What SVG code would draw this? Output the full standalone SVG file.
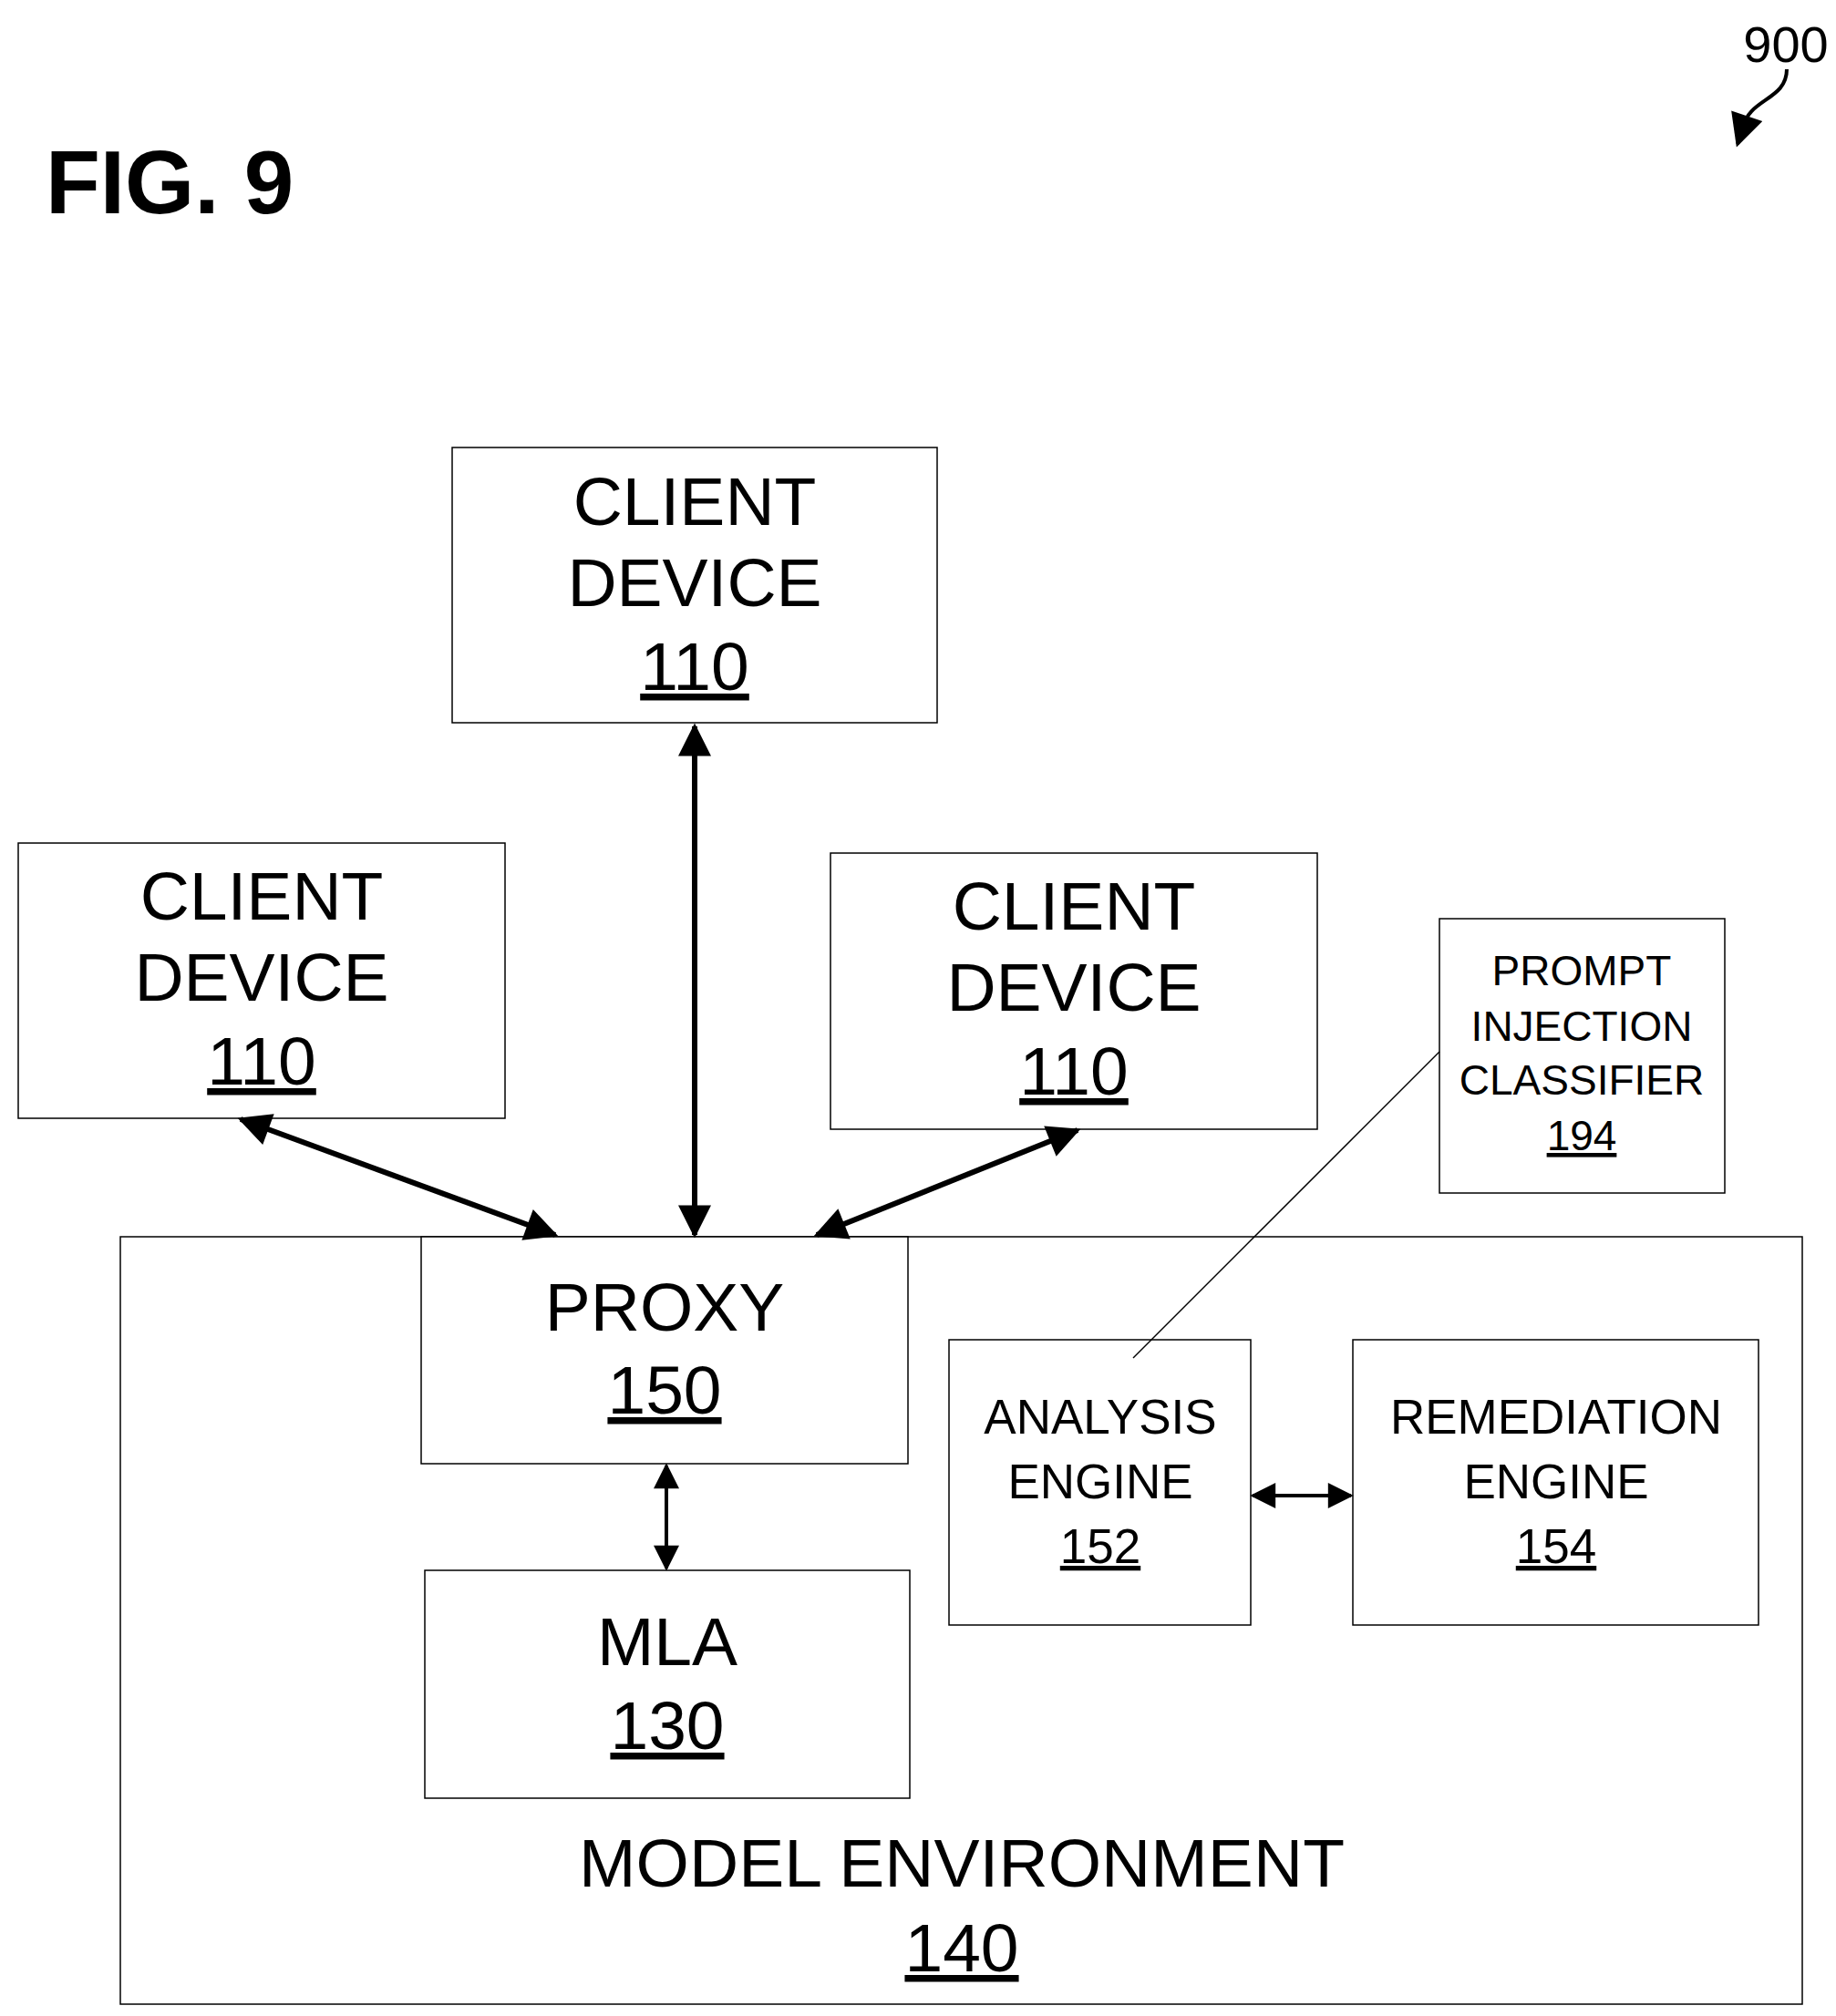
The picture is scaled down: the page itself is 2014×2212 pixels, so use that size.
<svg xmlns="http://www.w3.org/2000/svg" width="2014" height="2212" viewBox="0 0 2014 2212">
<style>
rect{fill:#fff;stroke:#000;stroke-width:1.5}
text{font-family:"Liberation Sans",Arial,sans-serif;text-anchor:middle;fill:#000}
.b{font-size:75px}.s{font-size:46px}.m{font-size:53px}
.u{text-decoration:underline}
.c{stroke:#000;stroke-width:6;fill:none}
</style>
<defs>
<marker id="a" viewBox="0 0 10 10" refX="9" refY="5" markerWidth="7" markerHeight="6" orient="auto-start-reverse" markerUnits="strokeWidth"><path d="M0,0L10,5L0,10z" fill="#000"/></marker>
<marker id="a2" viewBox="0 0 10 10" refX="9" refY="5" markerWidth="8" markerHeight="7" orient="auto-start-reverse" markerUnits="strokeWidth"><path d="M0,0L10,5L0,10z" fill="#000"/></marker>
<marker id="a3" viewBox="0 0 10 10" refX="9" refY="5" markerWidth="11" markerHeight="9" orient="auto" markerUnits="strokeWidth"><path d="M0,0L10,5L0,10z" fill="#000"/></marker>
</defs>
<text x="50" y="234" style="font-size:98px;font-weight:bold;text-anchor:start">FIG. 9</text>
<text x="1959" y="68" style="font-size:56px">900</text>
<path d="M1960,76 C1960,110 1918,108 1912,140 L1906,158" class="c" style="stroke-width:4" marker-end="url(#a3)"/>
<g id="env"><rect x="132" y="1357" width="1845" height="842"/>
<text class="b" x="1055" y="2070" textLength="840">MODEL ENVIRONMENT</text><text class="b u" x="1055" y="2163">140</text></g>
<g id="client-top"><rect x="496" y="491" width="532" height="302"/>
<text class="b" x="762" y="576">CLIENT</text><text class="b" x="762" y="665">DEVICE</text><text class="b u" x="762" y="757">110</text></g>
<g id="client-left"><rect x="20" y="925" width="534" height="302"/>
<text class="b" x="287" y="1009">CLIENT</text><text class="b" x="287" y="1098">DEVICE</text><text class="b u" x="287" y="1190">110</text></g>
<g id="client-right"><rect x="911" y="936" width="534" height="303"/>
<text class="b" x="1178" y="1020">CLIENT</text><text class="b" x="1178" y="1109">DEVICE</text><text class="b u" x="1178" y="1201">110</text></g>
<g id="classifier"><rect x="1579" y="1008" width="313" height="301"/>
<text class="s" x="1735" y="1081">PROMPT</text><text class="s" x="1735" y="1142">INJECTION</text><text class="s" x="1735" y="1201">CLASSIFIER</text><text class="s u" x="1735" y="1262">194</text></g>
<g id="proxy"><rect x="462" y="1357" width="534" height="249"/>
<text class="b" x="729" y="1460">PROXY</text><text class="b u" x="729" y="1551">150</text></g>
<g id="mla"><rect x="466" y="1723" width="532" height="250"/>
<text class="b" x="732" y="1827">MLA</text><text class="b u" x="732" y="1919">130</text></g>
<g id="analysis"><rect x="1041" y="1470" width="331" height="313"/>
<text class="m" x="1207" y="1573">ANALYSIS</text><text class="m" x="1207" y="1644">ENGINE</text><text class="m u" x="1207" y="1715">152</text></g>
<g id="remediation"><rect x="1484" y="1470" width="445" height="313"/>
<text class="m" x="1707" y="1573">REMEDIATION</text><text class="m" x="1707" y="1644">ENGINE</text><text class="m u" x="1707" y="1715">154</text></g>
<g id="connectors">
<line class="c" x1="762" y1="797" x2="762" y2="1355" marker-start="url(#a)" marker-end="url(#a)"/>
<line class="c" x1="264" y1="1228" x2="609" y2="1355" marker-start="url(#a)" marker-end="url(#a)"/>
<line class="c" x1="1182" y1="1240" x2="896" y2="1355" marker-start="url(#a)" marker-end="url(#a)"/>
<line class="c" style="stroke-width:4" x1="731" y1="1608" x2="731" y2="1721" marker-start="url(#a2)" marker-end="url(#a2)"/>
<line class="c" style="stroke-width:4" x1="1374" y1="1641" x2="1482" y2="1641" marker-start="url(#a2)" marker-end="url(#a2)"/>
<line stroke="#000" stroke-width="1.5" x1="1579" y1="1154" x2="1243" y2="1490"/>
</g>
</svg>
